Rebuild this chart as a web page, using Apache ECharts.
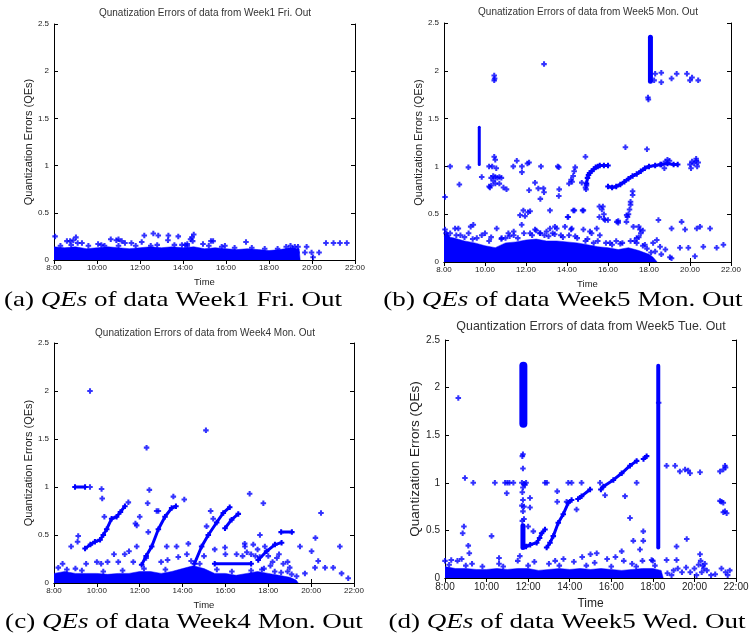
<!DOCTYPE html>
<html>
<head>
<meta charset="utf-8">
<script src="https://cdn.jsdelivr.net/npm/echarts@6/dist/echarts.min.js"></script>
<style>
html, body { margin: 0; padding: 0; background: #fff; }
#chart { width: 754px; height: 643px; }
</style>
</head>
<body>
<div id="chart"></div>
<script>
// tick labels
var hourTicks = [8, 10, 12, 14, 16, 18, 20, 22];
var labelsColon = ['8:00', '10:00', '12:00', '14:00', '16:00', '18:00', '20:00', '22:00'];
var labelsDot = ['8.00', '10.00', '12.00', '14.00', '16.00', '18.00', '20.00', '22.00'];

// (a) Week1 Fri. - top edge of the dense cloud, then single points
var bandA = [[8,0.14],[8.5,0.13],[9,0.14],[9.5,0.12],[10,0.13],[10.5,0.14],[11,0.13],[11.5,0.12],[12,0.13],[12.5,0.14],[13,0.13],[13.5,0.14],[14,0.13],[14.5,0.14],[15,0.12],[15.5,0.13],[16,0.12],[16.5,0.11],[17,0.12],[17.5,0.11],[18,0.10],[18.5,0.11],[19,0.13],[19.4,0.12],[19.45,0]];
var ptsA = [[8.05,0.25],[8.6,0.2],[8.75,0.2],[8.9,0.21],[9.02,0.24],[9.1,0.18],[9.3,0.18],[10.05,0.17],[10.35,0.15],[10.64,0.22],[10.9,0.21],[11.0,0.22],[11.15,0.2],[11.3,0.18],[11.6,0.18],[12.08,0.19],[12.2,0.26],[12.5,0.15],[12.62,0.28],[12.85,0.26],[13.3,0.21],[13.32,0.26],[13.78,0.25],[13.95,0.16],[14.1,0.16],[14.2,0.17],[14.35,0.22],[14.42,0.24],[14.45,0.2],[14.5,0.27],[14.93,0.17],[15.3,0.2],[15.4,0.2],[15.95,0.15],[16.93,0.19],[18.8,0.14],[18.9,0.1],[19.0,0.15],[19.1,0.12],[19.2,0.14],[19.3,0.08],[19.35,0.14],[19.67,0.08],[19.75,0.14],[19.98,0.08],[20.05,0.03],[20.33,0.08],[20.65,0.18],[21.0,0.18],[21.3,0.18],[21.62,0.18],
  [8.3,0.15],[8.8,0.16],[9.6,0.15],[10.2,0.16],[11.0,0.15],[11.8,0.15],[12.8,0.16],[13.6,0.16],[14.2,0.15],[15.2,0.15],[15.8,0.14],[16.4,0.13],[17.2,0.13],[17.8,0.12],[18.4,0.12]];

// (b) Week5 Mon.
var bandB = [[8,0.27],[8.15,0.32],[8.3,0.26],[8.5,0.25],[9,0.22],[9.5,0.2],[10,0.17],[10.5,0.15],[11,0.2],[11.5,0.21],[12,0.23],[12.5,0.24],[13,0.22],[13.5,0.22],[14,0.21],[14.5,0.2],[15,0.18],[15.5,0.16],[16,0.15],[16.5,0.13],[17,0.15],[17.5,0.12],[18,0.08],[18.2,0.05],[18.4,0]];
var barsB = [[9.72,1.02,1.41],[18.07,1.89,2.35]];
var rampsB = [
  [[14.95,0.82],[15.0,0.88],[15.05,0.91],[15.1,0.93],[15.2,0.95],[15.3,0.97],[15.4,0.99],[15.5,1.0],[15.6,1.01],[15.8,1.01],[16.0,1.01]],
  [[16.0,0.79],[16.2,0.78],[16.4,0.79],[16.6,0.81],[16.8,0.84],[17.0,0.87],[17.2,0.9],[17.4,0.92],[17.6,0.95],[17.8,0.98],[18.0,1.0],[18.3,1.01],[18.6,1.02],[18.9,1.03],[19.2,1.02],[19.4,1.02]]
];
var ptsB = [[8.05,0.68],[8.3,1.0],[8.75,0.81],[9.19,0.99],[9.84,0.89],[10.2,1.0],[10.24,0.78],
  [10.45,1.1],[10.5,1.07],[10.35,1.0],[10.55,0.98],[10.3,0.88],[10.4,0.9],[10.5,0.89],[10.6,0.88],[10.7,0.89],[10.8,0.88],[10.4,0.85],[10.5,0.82],[10.3,0.8],[10.7,0.82],[10.9,0.78],[11.05,0.76],[10.2,0.79],
  [10.45,1.95],[10.47,1.92],[10.45,1.9],[12.88,2.07],
  [11.55,1.06],[11.38,1.0],[11.8,1.0],[11.8,0.94],[12.07,1.03],[12.15,1.04],[12.15,0.75],[12.44,0.83],[12.6,0.77],[12.7,0.66],[12.85,0.77],[12.88,0.73],[12.73,1.0],[13.17,0.54],[13.55,1.0],[13.6,0.99],[13.62,0.76],[13.6,0.69],[14.03,0.47],[14.1,0.82],[14.2,0.86],[14.25,0.84],[14.3,0.9],[14.35,0.95],[14.4,0.99],[14.36,0.54],[14.72,0.83],[14.8,0.54],[14.9,0.78],[14.9,1.1],[14.93,0.76],[14.95,0.8],
  [16.85,1.2],[17.9,1.18],[18.55,1.02],[18.75,0.98],[18.8,1.05],[18.9,1.07],[19.0,1.06],
  [20.0,1.02],[20.05,0.98],[20.1,1.05],[20.2,1.03],[20.3,1.06],[20.3,1.08],[20.35,1.0],[20.4,1.04],
  [17.2,0.74],[17.2,0.7],[17.1,0.6],[17.05,0.55],[17.0,0.5],[16.95,0.47],[16.9,0.42],[16.5,0.43],[16.5,0.41],[16.0,0.44],[15.8,0.5],[15.7,0.55],[15.75,0.58],[15.8,0.45],[12.2,0.53],[12.1,0.52],[11.95,0.48],
  [17.95,1.72],[17.97,1.7],[18.3,1.97],[18.6,1.98],[18.6,1.88],[18.25,1.9],[19.1,1.92],[19.35,1.97],[19.85,1.97],[20.0,1.9],[20.1,1.93],[20.4,1.9],
  [8.54,0.35],[9.43,0.39],[9.84,0.28],[10.57,0.35],[10.81,0.25],[11.14,0.3],[11.71,0.49],[11.87,0.54],[11.79,0.39],[12.44,0.34],[12.68,0.3],[13.17,0.35],[13.41,0.37],[13.9,0.37],[14.23,0.35],[14.06,0.47],[14.31,0.54],[14.76,0.54],[14.8,0.34],[15.12,0.32],[15.45,0.35],[15.58,0.58],[15.58,0.47],[15.86,0.44],[16.43,0.42],[16.91,0.49],[17.1,0.63],[17.24,0.37],[17.56,0.34],[17.4,0.25],[18.46,0.44],[18.38,0.23],[18.54,0.16],[19.1,0.35],[19.59,0.42],[19.76,0.34],[19.92,0.15],[20.24,0.06],[20.33,0.35],[20.49,0.37],[20.65,0.16],[20.98,0.35],[21.3,0.15],[21.63,0.18],[19.51,0.15],[19.02,0.05],
  [8.05,0.34],[8.1,0.3],[8.7,0.35],[9.3,0.37],[10.0,0.3],[11.4,0.32],[12.5,0.33],[13.0,0.32],[13.5,0.35],[14.2,0.34],[15.2,0.3],[17.5,0.37],[17.6,0.3],[17.7,0.33],[18.8,0.13],[19.1,0.04],[18.6,0.08],[18.3,0.11],
  [8.3,0.3],[8.8,0.28],[9.2,0.3],[9.6,0.25],[10.2,0.22],[11.0,0.25],[11.4,0.28],[12.2,0.3],[12.9,0.28],[13.3,0.3],[13.7,0.28],[14.4,0.27],[15.0,0.24],[15.5,0.22],[16.1,0.2],[16.6,0.19],[17.1,0.22],[17.4,0.2],[17.7,0.17],[17.9,0.14],[18.1,0.1],
  [8.6,0.28],[9.0,0.26],[9.4,0.24],[10.3,0.26],[10.8,0.24],[11.2,0.27],[11.6,0.25],[11.9,0.3],[12.3,0.28],[12.7,0.3],[13.1,0.27],[13.4,0.29],[13.8,0.26],[14.1,0.28],[14.5,0.25],[14.9,0.22],[15.3,0.2],[15.6,0.28],[15.9,0.2],[16.2,0.18],[16.4,0.22],[16.7,0.2],[17.3,0.22],[17.5,0.26],[17.8,0.18],[18.2,0.2]];

// (c) Week4 Mon.
var bandC = [[8,0.1],[8.5,0.12],[9,0.1],[9.5,0.1],[10,0.1],[10.5,0.09],[11,0.1],[11.5,0.1],[12,0.12],[12.5,0.12],[13,0.1],[13.5,0.12],[14,0.15],[14.5,0.18],[15,0.15],[15.5,0.1],[16,0.1],[16.5,0.08],[17,0.1],[17.5,0.12],[18,0.1],[18.5,0.08],[19,0.06],[19.3,0.03],[19.4,0]];
var rampsC = [
  [[9.45,0.36],[9.7,0.4],[9.91,0.43],[10.15,0.45],[10.3,0.5],[10.46,0.56],[10.69,0.67],[10.92,0.69],[11.1,0.74],[11.31,0.8]],
  [[12.09,0.19],[12.3,0.28],[12.56,0.38],[12.87,0.56],[13.18,0.69],[13.49,0.78],[13.69,0.8]],
  [[14.55,0.2],[14.89,0.38],[15.2,0.5],[15.59,0.63],[15.9,0.73],[16.2,0.79]],
  [[15.98,0.57],[16.29,0.66],[16.6,0.72]],
  [[17.53,0.24],[17.92,0.33],[18.31,0.4],[18.62,0.42]],
  [[18.6,0.53],[19.1,0.53]],
  [[8.98,1.0],[9.45,1.0]],
  [[15.5,0.2],[17.2,0.2]]
];
var ptsC = [[9.68,2.0],[9.68,1.0],[9.13,0.49],[9.1,0.43],[8.8,0.38],[10.22,0.98],[10.25,0.88],[10.35,0.69],[11.47,0.84],[11.86,0.6],[11.8,0.62],[12.0,0.69],[11.86,0.38],[12.32,1.41],[12.37,0.83],[12.45,0.97],[12.4,0.53],[12.79,0.75],[12.87,0.75],[13.57,0.9],[14.08,0.87],[13.26,0.38],[13.72,0.38],[14.27,0.41],[15.09,1.59],[15.31,0.75],[15.43,0.67],[15.12,0.59],[15.98,0.37],[16.52,0.3],[17.13,0.93],[17.77,0.83],[17.61,0.5],[17.84,0.38],[19.48,0.38],[20.02,0.33],[20.2,0.47],[20.46,0.73],[20.33,0.23],[20.18,0.16],[20.65,0.16],[21.03,0.16],[21.34,0.38],[21.42,0.1],[21.73,0.05],[19.71,0.1],[19.32,0.07],[19.09,0.09],
  [8.4,0.2],[8.2,0.16],[9.0,0.15],[9.5,0.2],[10.0,0.22],[10.2,0.2],[10.5,0.22],[10.8,0.3],[11.0,0.22],[11.3,0.3],[11.5,0.33],[11.7,0.22],[12.3,0.26],[13.0,0.22],[13.3,0.24],[13.8,0.27],[14.2,0.3],[14.4,0.23],[15.0,0.28],[15.5,0.35],[16.0,0.3],[16.8,0.28],[17.0,0.32],[17.3,0.4],[17.5,0.35],[18.0,0.28],[18.2,0.22],[18.5,0.3],[18.9,0.22],[19.0,0.16],[17.8,0.15],[18.3,0.12],[17.2,0.3],[17.4,0.28],[17.6,0.27],[18.4,0.26],[18.7,0.2],[18.9,0.12],[18.1,0.18],[16.91,0.38],[16.9,0.41],
  [8.6,0.14],[9.3,0.13],[10.3,0.12],[11.2,0.13],[12.2,0.15],[13.2,0.14],[14.8,0.2],[15.6,0.14],[16.3,0.12],[17.2,0.13],[17.7,0.14],[18.6,0.11]];

// (d) Week5 Wed.
var bandD = [[8,0.12],[8.5,0.1],[9,0.1],[9.5,0.09],[10,0.09],[10.5,0.1],[11,0.09],[11.5,0.1],[12,0.1],[12.5,0.08],[13,0.09],[13.5,0.1],[14,0.09],[14.5,0.1],[15,0.09],[15.5,0.1],[16,0.09],[16.5,0.08],[17,0.09],[17.5,0.1],[18,0.1],[18.4,0.08],[18.5,0]];
var barsD = [[11.77,1.62,2.23],[11.75,0.32,0.55],[18.26,0.32,2.23]];
var rampsD = [
  [[11.9,0.33],[12.1,0.35],[12.41,0.37],[12.55,0.42],[12.65,0.47],[12.81,0.51]],
  [[12.89,0.32],[13.05,0.37],[13.21,0.44],[13.45,0.58],[13.69,0.67],[13.93,0.79],[14.09,0.82]],
  [[14.4,0.83],[14.57,0.86],[14.98,0.93]],
  [[15.5,0.93],[15.62,0.96],[16.1,1.03],[16.5,1.1],[16.9,1.18],[17.22,1.23]],
  [[17.55,1.25],[17.7,1.28]]
];
var ptsD = [[11.75,1.3],[11.72,1.28],[11.75,1.15],[11.7,1.0],[11.8,0.99],[11.9,1.0],[11.85,0.98],[11.75,0.95],[11.72,0.9],[11.75,0.82],[11.7,0.76],[11.8,0.75],[11.75,0.7],[11.72,0.6],[11.8,0.62],
  [8.96,1.05],[9.36,1.0],[10.4,1.0],[10.89,1.0],[11.0,1.0],[11.1,1.0],[11.29,1.0],[10.97,0.89],[12.81,1.0],[12.9,1.0],[13.93,1.0],[14.09,1.0],[14.57,1.0],[15.46,1.0],[17.22,1.0],[16.66,0.86],[16.9,0.63],[17.06,0.39],[17.54,0.49],[17.54,0.39],[17.38,0.3],[13.4,0.91],[13.4,0.8],[13.85,0.8],[14.33,0.72],[12.09,0.84],[12.09,0.74],[12.25,0.49],[12.0,0.54],[15.7,0.87],
  [8.64,1.89],[8.91,0.54],[8.85,0.47],[9.12,0.34],[9.17,0.26],[10.24,0.44],[10.6,0.21],[11.6,0.23],
  [18.66,1.18],[19.07,1.18],[19.3,1.12],[19.55,1.14],[19.7,1.13],[19.79,1.1],[20.27,1.11],[21.23,1.12],[21.39,1.14],[21.47,1.18],[21.5,1.16],[21.23,0.81],[21.3,0.8],[21.39,0.79],[21.39,0.69],[21.47,0.7],[21.55,0.68],[19.63,0.41],[19.14,0.33],[20.27,0.25],[17.94,0.19],[18.66,0.19],[19.14,0.19],[18.28,1.84],
  [8.0,0.18],[8.3,0.19],[8.6,0.18],[8.8,0.2],[9.3,0.15],[10.6,0.15],[11.5,0.18],[12.3,0.17],[13.0,0.15],[13.3,0.18],[13.7,0.2],[14.2,0.17],[14.6,0.22],[15.0,0.25],[15.3,0.26],[15.8,0.2],[16.2,0.22],[16.6,0.18],[17.0,0.15],[17.5,0.18],[18.0,0.18],[18.7,0.05],[18.9,0.03],[19.2,0.1],[19.4,0.06],[19.6,0.11],[19.8,0.06],[20.0,0.1],[20.2,0.14],[20.3,0.18],[20.4,0.13],[20.5,0.15],[20.6,0.08],[20.8,0.03],[21.0,0.04],[21.3,0.1],[21.5,0.06],[21.6,0.03],[21.7,0.08],[19.0,0.08],[20.1,0.03],[20.45,0.1],[20.35,0.06],[16.5,0.28],[15.2,0.16],
  [8.2,0.14],[9.0,0.13],[9.8,0.12],[10.8,0.12],[12.0,0.13],[13.5,0.13],[14.8,0.13],[16.0,0.12],[17.2,0.12],[18.1,0.13]];

// line widths of the vertical bars (styles, kept apart from data)
var barWidthB = [3, 5];
var barWidthD = [8, 5, 4];

var BLUE = '#0000ff';
var PLUS = 'path://M2.5,0H5.5V2.5H8V5.5H5.5V8H2.5V5.5H0V2.5H2.5Z';
var SANS = '"Liberation Sans", Arial, sans-serif';
var SERIF = '"Liberation Serif", "Times New Roman", serif';

var panels = [
  { grid: { left: 54, top: 24, width: 301, height: 236 }, labels: labelsColon, fs: 8, nameFs: 11, timeFs: 9.5, nameGap: 19, timeGap: 17, band: bandA, pts: ptsA, ramps: [], bars: [], barW: [] },
  { grid: { left: 444, top: 23, width: 287, height: 239 }, labels: labelsDot, fs: 8, nameFs: 11, timeFs: 9.5, nameGap: 19, timeGap: 17, band: bandB, pts: ptsB, ramps: rampsB, bars: barsB, barW: barWidthB },
  { grid: { left: 54, top: 343, width: 300, height: 240 }, labels: labelsColon, fs: 8, nameFs: 11, timeFs: 9.5, nameGap: 19, timeGap: 17, band: bandC, pts: ptsC, ramps: rampsC, bars: [], barW: [] },
  { grid: { left: 445, top: 340, width: 291, height: 238 }, labels: labelsColon, fs: 10, nameFs: 13.5, timeFs: 12, nameGap: 19, timeGap: 20, band: bandD, pts: ptsD, ramps: rampsD, bars: barsD, barW: barWidthD }
];

var titles = [
  { text: 'Qunatization Errors of data from Week1 Fri. Out', x: 205, y: 13, fs: 10 },
  { text: 'Qunatization Errors of data from Week5 Mon. Out', x: 588, y: 12, fs: 10 },
  { text: 'Qunatization Errors of data from Week4 Mon. Out', x: 205, y: 333, fs: 10 },
  { text: 'Quantization Errors of data from Week5 Tue. Out', x: 591, y: 327, fs: 12.4 }
];
var captions = [
  { text: '(a) {i|QEs} of data Week1 Fri. Out', x: 173, y: 300 },
  { text: '(b) {i|QEs} of data Week5 Mon. Out', x: 563, y: 300 },
  { text: '(c) {i|QEs} of data Week4 Mon. Out', x: 184, y: 622 },
  { text: '(d) {i|QEs} of data Week5 Wed. Out', x: 567, y: 622 }
];

var grids = [], xAxes = [], yAxes = [], series = [];
var axisLine = { show: true, lineStyle: { color: '#000', width: 1 } };
var axisTick = { show: true, inside: true, length: 4, lineStyle: { color: '#000' } };

panels.forEach(function(p, gi) {
  grids.push(p.grid);
  var labels = p.labels;
  xAxes.push({
    type: 'value', gridIndex: gi, min: 8, max: 22, interval: 2,
    axisLine: axisLine, axisTick: axisTick, splitLine: { show: false },
    axisLabel: { fontSize: p.fs, fontFamily: SANS, color: '#222', margin: 4,
      formatter: function(v) { var k = hourTicks.indexOf(v); return k < 0 ? '' : labels[k]; } },
    name: 'Time', nameLocation: 'middle', nameGap: p.timeGap,
    nameTextStyle: { fontSize: p.timeFs, fontFamily: SANS, color: '#222' }
  });
  xAxes.push({
    type: 'value', gridIndex: gi, position: 'top', min: 8, max: 22, interval: 2,
    axisLine: axisLine, axisTick: axisTick, splitLine: { show: false }, axisLabel: { show: false }
  });
  yAxes.push({
    type: 'value', gridIndex: gi, min: 0, max: 2.5, interval: 0.5,
    axisLine: axisLine, axisTick: axisTick, splitLine: { show: false },
    axisLabel: { fontSize: p.fs, fontFamily: SANS, color: '#222', margin: 5 },
    name: 'Quantization Errors (QEs)', nameLocation: 'middle', nameGap: p.nameGap,
    nameTextStyle: { fontSize: p.nameFs, fontFamily: SANS, color: '#222' }
  });
  yAxes.push({
    type: 'value', gridIndex: gi, position: 'right', min: 0, max: 2.5, interval: 0.5,
    axisLine: axisLine, axisTick: axisTick, splitLine: { show: false }, axisLabel: { show: false }
  });
  var xi = gi * 2, yi = gi * 2;
  // dense cloud near zero
  series.push({
    type: 'line', xAxisIndex: xi, yAxisIndex: yi, data: p.band, symbol: 'none',
    lineStyle: { width: 0.5, color: BLUE }, areaStyle: { color: BLUE, opacity: 1 }, silent: true
  });
  // vertical stacks of points
  p.bars.forEach(function(b, k) {
    series.push({
      type: 'line', xAxisIndex: xi, yAxisIndex: yi, data: [[b[0], b[1]], [b[0], b[2]]],
      symbol: 'none', lineStyle: { width: p.barW[k], color: BLUE, cap: 'round' }, silent: true
    });
  });
  // drifting chains of points
  p.ramps.forEach(function(r) {
    series.push({
      type: 'line', xAxisIndex: xi, yAxisIndex: yi, data: r, symbol: PLUS, symbolSize: 5.5,
      itemStyle: { color: BLUE }, lineStyle: { width: 3, color: BLUE }, silent: true
    });
  });
  series.push({
    type: 'scatter', xAxisIndex: xi, yAxisIndex: yi, data: p.pts, symbol: PLUS, symbolSize: 5.5,
    itemStyle: { color: BLUE }, silent: true
  });
});

var graphics = [];
titles.forEach(function(t) {
  graphics.push({ type: 'text', x: t.x, y: t.y, silent: true,
    style: { text: t.text, font: t.fs + 'px ' + SANS, fill: '#333', align: 'center', verticalAlign: 'middle' } });
});
captions.forEach(function(c) {
  graphics.push({ type: 'text', x: c.x, y: c.y, scaleX: 1.23, silent: true,
    style: { text: c.text, font: '22px ' + SERIF, fill: '#000', align: 'center', verticalAlign: 'middle',
      rich: { i: { fontStyle: 'italic', fontSize: 22, fontFamily: SERIF, fill: '#000' } } } });
});

var myChart = echarts.init(document.getElementById('chart'));
myChart.setOption({
  animation: false,
  grid: grids,
  xAxis: xAxes,
  yAxis: yAxes,
  series: series,
  graphic: graphics
});
</script>
</body>
</html>
